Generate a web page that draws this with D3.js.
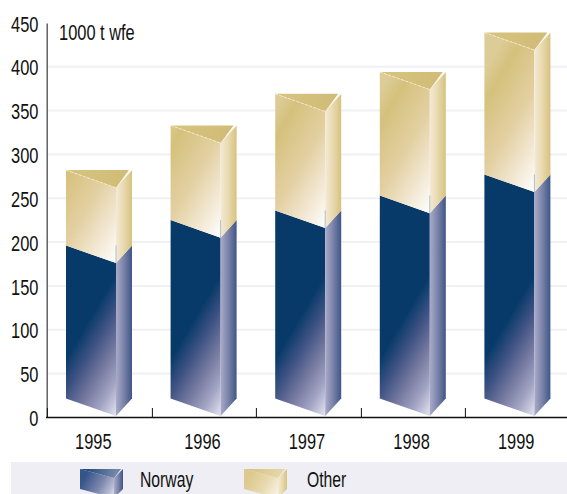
<!DOCTYPE html>
<html>
<head>
<meta charset="utf-8">
<script src="https://cdn.jsdelivr.net/npm/d3@7"></script>
<style>
  html, body { margin: 0; padding: 0; background: #fff; }
  svg { display: block; }
  text { font-family: "Liberation Sans", sans-serif; fill: #111; }
</style>
</head>
<body>
<svg id="chart" width="567" height="494"></svg>
<script>
// Production by year, in 1000 tonnes of wood fibre equivalent
const years = ["1995", "1996", "1997", "1998", "1999"];
const norway = [176, 205, 216, 233, 257];
const other = [86, 108, 133, 141, 162];
const yTicks = [0, 50, 100, 150, 200, 250, 300, 350, 400, 450];
const unitLabel = "1000 t wfe";
const legendLabels = ["Norway", "Other"];

const width = 567, height = 494;
const svg = d3.select("#chart");
const defs = svg.append("defs");

const y = d3.scaleLinear().domain([0, 450]).range([417.4, 22.9]);
const x = d3.scaleBand().domain(years).range([47, 570]);

const palettes = {
  norway: {
    frontLen: 72,
    front: [[0, "#073a69"], [0.25, "#3f5384"], [0.5, "#75799f"], [0.75, "#a3a4c4"], [1, "#e4e5f0"]],
    side: [[0, "#a9abc9"], [0.5, "#7a82a8"], [1, "#3f5687"]],
    keyFront: [[0, "#35548a"], [0.5, "#7d88ad"], [0.8, "#b8bcd2"], [1, "#e8e9f0"]],
    keyTop: [[0, "#0f3f70"], [1, "#7385aa"]],
  },
  other: {
    frontLen: 105,
    front: [[0, "#dccd98"], [0.16, "#d5c17c"], [0.5, "#e3d0a2"], [0.75, "#f1e6d0"], [1, "#ffffff"]],
    side: [[0, "#f4ead6"], [0.5, "#e8d9ae"], [1, "#d6c27e"]],
    keyFront: [[0, "#dcc98c"], [0.5, "#e8d9ae"], [0.8, "#f3ead3"], [1, "#fbf8f0"]],
    keyTop: [[0, "#d4c07a"], [1, "#e4d6a6"]],
  },
};

let gradId = 0;
function addGradient(x1, y1, x2, y2, stops) {
  const id = "g" + (gradId++);
  const g = defs.append("linearGradient").attr("id", id)
    .attr("gradientUnits", "userSpaceOnUse")
    .attr("x1", x1).attr("y1", y1).attr("x2", x2).attr("y2", y2);
  stops.forEach(s => g.append("stop").attr("offset", s[0]).attr("stop-color", s[1]));
  return "url(#" + id + ")";
}

const line = d3.line();

// Labels use a condensed face, obtained by squeezing the sans horizontally
const squeeze = 0.73, labelSize = 22.5;
function label(parent, px, py, str, anchor, sx) {
  return parent.append("text")
    .attr("transform", `translate(${px},${py}) scale(${sx || squeeze},1)`)
    .attr("text-anchor", anchor || "start")
    .attr("font-size", labelSize)
    .text(str);
}

// One segment of a triangular prism: a front face ending in the near vertical edge, plus a side face
function drawSegment(g, left, frontW, sideW, rise, yTop, yBot, pal) {
  const edge = left + frontW, right = edge + sideW;
  const ux = 0.862, uy = 0.507;
  const fill = addGradient(edge - pal.frontLen * ux, yBot - pal.frontLen * uy, edge, yBot, pal.front);
  g.append("path")
    .attr("d", line([[left, yTop - rise], [edge, yTop], [edge, yBot], [left, yBot - rise]]) + "Z")
    .attr("fill", fill);
  g.append("path")
    .attr("d", line([[edge, yTop], [right, yTop - rise], [right, yBot - rise], [edge, yBot]]) + "Z")
    .attr("fill", addGradient(edge, 0, right, 0, pal.side));
}

// Pale gridlines
svg.append("g").selectAll("line")
  .data(yTicks.filter(t => t > 0 && t < 450))
  .join("line")
  .attr("x1", 48).attr("x2", width)
  .attr("y1", d => y(d)).attr("y2", d => y(d))
  .attr("stroke", "#f0f0f6").attr("stroke-width", 2);

// Bars
const frontW = 50, sideW = 16, rise = 17.6, inset = 19, footGap = 1.4;
years.forEach((yr, i) => {
  const g = svg.append("g");
  const left = x(yr) + inset;
  const edge = left + frontW;
  const yN = y(norway[i]);
  const yT = y(norway[i] + other[i]);
  const base = y(0) - footGap;

  drawSegment(g, left, frontW, sideW, rise, yN, base, palettes.norway);
  drawSegment(g, left, frontW, sideW, rise, yT, yN, palettes.other);

  // Top face of the prism
  g.append("path")
    .attr("d", line([[left, yT - rise], [edge + sideW - 3, yT - rise], [edge, yT]]) + "Z")
    .attr("fill", addGradient(left, yT - rise, edge, yT, [[0, "#d6c47f"], [1, "#d2bd78"]]));
  g.append("line")
    .attr("x1", left).attr("y1", yT - rise).attr("x2", edge).attr("y2", yT)
    .attr("stroke", "#f6efd9").attr("stroke-width", 0.8).attr("stroke-dasharray", "3 1.5");
  g.append("line")
    .attr("x1", edge).attr("y1", yT).attr("x2", edge + sideW).attr("y2", yT - rise)
    .attr("stroke", "#f3ead0").attr("stroke-width", 0.6);

  // Thin seam where the near edge of the lower segment shows through
  g.append("line")
    .attr("x1", edge).attr("x2", edge)
    .attr("y1", yN - rise).attr("y2", yN)
    .attr("stroke", "#a8b8c8").attr("stroke-width", 0.9);
});

// Axes
const axisLeft = svg.append("g").attr("transform", "translate(46.7,0)")
  .call(d3.axisLeft(y).tickValues(yTicks).tickSize(0).tickPadding(8));
axisLeft.select(".domain").attr("stroke", "#555").attr("stroke-width", 1.4);
axisLeft.selectAll("text")
  .attr("font-size", labelSize).attr("font-family", null).attr("x", 0).attr("dy", "0.36em")
  .attr("transform", `translate(-8.2,0) scale(${squeeze},1)`)
  .attr("fill", "#111");

svg.append("line")
  .attr("x1", 46).attr("x2", width).attr("y1", y(0)).attr("y2", y(0))
  .attr("stroke", "#111").attr("stroke-width", 1.5);

svg.append("g").selectAll("line")
  .data(years)
  .join("line")
  .attr("x1", d => Math.round(x(d)) + 0.4).attr("x2", d => Math.round(x(d)) + 0.4)
  .attr("y1", 408).attr("y2", y(0))
  .attr("stroke", "#111").attr("stroke-width", 1);

const yearLabels = svg.append("g");
years.forEach((yr, i) => {
  label(yearLabels, x(yr) + x.bandwidth() / 2 + (i === 0 ? -6 : -1.5), 449, yr, "middle");
});

label(svg, 59, 40, unitLabel);

// Legend
svg.append("rect")
  .attr("x", 11).attr("y", 462).attr("width", width - 11).attr("height", height - 462)
  .attr("fill", "#eeeef4");

[{ key: "norway", left: 80, textX: 140 }, { key: "other", left: 244, textX: 307 }].forEach((item, i) => {
  const g = svg.append("g");
  const pal = palettes[item.key];
  const fw = 34, sw = 9, r = 9, top = 478, bot = 498;
  const edge = item.left + fw;
  drawSegment(g, item.left, fw, sw, r, top, bot, { frontLen: 36, front: pal.keyFront, side: pal.side });
  g.append("path")
    .attr("d", line([[item.left, top - r], [edge + sw - 2, top - r], [edge, top]]) + "Z")
    .attr("fill", addGradient(item.left, top - r, edge, top, pal.keyTop));
  label(g, item.textX, 487, legendLabels[i], "start", 0.7);
});
</script>
</body>
</html>
